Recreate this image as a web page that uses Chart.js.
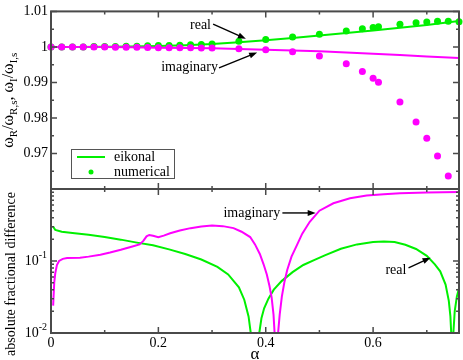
<!DOCTYPE html>
<html><head><meta charset="utf-8">
<script src="https://cdn.jsdelivr.net/npm/chart.js@4.4.1/dist/chart.umd.min.js"></script>
<style>
html,body{margin:0;padding:0;background:#fff;}
#wrap{position:relative;width:463px;height:360px;overflow:hidden;}
#wrap canvas{position:absolute;left:0;top:0;}
</style></head><body>
<div id="wrap"><canvas id="cTop" width="463" height="360"></canvas><canvas id="cBot" width="463" height="360"></canvas></div>
<script>
// ---------- data ----------
const alphaNum = [0,0.02,0.04,0.06,0.08,0.10,0.12,0.14,0.16,0.18,0.20,0.22,0.24,0.26,0.28,0.30,0.35,0.40,0.45,0.50,0.55,0.58,0.60,0.61,0.65,0.68,0.70,0.72,0.74,0.76];
const numReal = [1.0000,1.0000,1.0000,1.0000,1.0001,1.0001,1.0001,1.0002,1.0002,1.0003,1.0004,1.0004,1.0005,1.0006,1.0007,1.0008,1.0016,1.0021,1.0028,1.0036,1.0045,1.0051,1.0055,1.0057,1.0064,1.0068,1.0070,1.0072,1.0072,1.0071];
const numImag = [1.0000,1.0000,1.0000,1.0000,1.0000,0.99995,0.99993,0.9999,0.9999,0.99985,0.9998,0.9998,0.99978,0.99975,0.99973,0.9997,0.99945,0.99918,0.99863,0.99743,0.99525,0.99306,0.99115,0.99005,0.98451,0.97885,0.97432,0.96929,0.96366,null];

const alphaEik = [0,0.05,0.10,0.15,0.20,0.25,0.30,0.35,0.40,0.45,0.50,0.55,0.60,0.65,0.70,0.76];
const eikReal = [1.0,1.00001,1.00005,1.00013,1.00025,1.0005,1.0008,1.0013,1.0019,1.0025,1.0032,1.0039,1.0046,1.0054,1.0062,1.0073];
const eikImag = [1.0,0.99999,0.99995,0.9999,0.9998,0.9997,0.9996,0.99942,0.9992,0.9990,0.99875,0.99845,0.9981,0.9977,0.9973,0.9969];

const alphaDiffReal = [0.004,0.008,0.02,0.04,0.07,0.10,0.13,0.16,0.19,0.22,0.25,0.28,0.31,0.33,0.35,0.36,0.368,0.3725,0.377,0.380,0.383,0.3875,0.392,0.397,0.405,0.415,0.43,0.45,0.47,0.49,0.51,0.54,0.57,0.60,0.62,0.64,0.66,0.68,0.70,0.715,0.725,0.735,0.741,0.744,0.7455,0.7475,0.7495,0.752,0.756,0.76];
const diffReal = [0.30,0.27,0.255,0.245,0.232,0.215,0.198,0.18,0.165,0.145,0.125,0.105,0.083,0.065,0.043,0.029,0.017,0.0095,0.003,0.0003,0.003,0.0095,0.016,0.022,0.030,0.04,0.053,0.07,0.088,0.103,0.12,0.148,0.17,0.183,0.187,0.184,0.168,0.147,0.118,0.09,0.072,0.047,0.028,0.017,0.01,0.0003,0.01,0.02,0.032,0.042];

const alphaDiffImag = [0.004,0.006,0.008,0.011,0.015,0.022,0.03,0.054,0.07,0.092,0.11,0.13,0.15,0.165,0.172,0.178,0.183,0.19,0.20,0.21,0.222,0.24,0.26,0.28,0.30,0.32,0.34,0.355,0.371,0.38,0.389,0.396,0.402,0.407,0.411,0.4145,0.4165,0.4198,0.423,0.426,0.43,0.435,0.44,0.448,0.457,0.468,0.482,0.50,0.526,0.557,0.588,0.62,0.65,0.70,0.76];
const diffImag = [0.024,0.05,0.068,0.088,0.10,0.107,0.11,0.111,0.115,0.122,0.131,0.143,0.158,0.17,0.19,0.22,0.23,0.224,0.214,0.225,0.243,0.265,0.286,0.302,0.31,0.305,0.286,0.255,0.215,0.17,0.125,0.09,0.065,0.045,0.031,0.018,0.01,0.0003,0.01,0.018,0.032,0.052,0.075,0.115,0.16,0.24,0.35,0.5,0.634,0.743,0.81,0.845,0.87,0.895,0.905];

// tick values
const xMajor = [0,0.2,0.4,0.6];
const xMinor = [0.1,0.3,0.5,0.7];
const xTickLabels = ['0','0.2','0.4','0.6'];
const yTopMajor = [0.96,0.97,0.98,0.99,1.00,1.01];
const yTopMinor = [0.965,0.975,0.985,0.995,1.005];
const yTopLabels = ['','0.97','0.98','0.99','1','1.01'];
const yBotMajor = [0.01,0.1,1];
const yBotMinor = [0.02,0.03,0.04,0.05,0.06,0.07,0.08,0.09,0.2,0.3,0.4,0.5,0.6,0.7,0.8,0.9];
const yBotLabels = [['10','-2'],['10','-1']];

// ---------- style ----------
const GREEN = '#00f000';
const MAG = '#ff00ff';
const FRAME = '#4a4a4a';
const SERIF = "'Liberation Serif', 'Times New Roman', serif";
const XMIN = 0, XMAX = 0.76;

const pts = (xs, ys) => xs.map((x,i) => ({x, y: ys[i]}));

function drawFrame(chart, ymaj, ymin) {
  const {ctx, chartArea: a} = chart;
  const xs = chart.scales.x, ys = chart.scales.y;
  ctx.save();
  ctx.strokeStyle = FRAME;
  ctx.lineWidth = 1.5;
  ctx.beginPath();
  const xt = (v, L) => { const p = xs.getPixelForValue(v); ctx.moveTo(p, a.bottom); ctx.lineTo(p, a.bottom - L); ctx.moveTo(p, a.top); ctx.lineTo(p, a.top + L); };
  const yt = (v, L) => { const p = ys.getPixelForValue(v); ctx.moveTo(a.left, p); ctx.lineTo(a.left + L, p); ctx.moveTo(a.right, p); ctx.lineTo(a.right - L, p); };
  xMajor.forEach(v => xt(v, 6)); xMinor.forEach(v => xt(v, 3));
  ymaj.forEach(v => yt(v, 6)); ymin.forEach(v => yt(v, 3));
  ctx.stroke();
  ctx.lineWidth = 2;
  ctx.strokeRect(a.left, a.top, a.right - a.left, a.bottom - a.top);
  ctx.restore();
}

function arrow(ctx, x1, y1, x2, y2) {
  const ang = Math.atan2(y2 - y1, x2 - x1);
  const L = 8, W = 3;
  ctx.beginPath(); ctx.moveTo(x1, y1); ctx.lineTo(x2 - L * 0.8 * Math.cos(ang), y2 - L * 0.8 * Math.sin(ang)); ctx.stroke();
  ctx.beginPath();
  ctx.moveTo(x2, y2);
  ctx.lineTo(x2 - L * Math.cos(ang) + W * Math.sin(ang), y2 - L * Math.sin(ang) - W * Math.cos(ang));
  ctx.lineTo(x2 - L * Math.cos(ang) - W * Math.sin(ang), y2 - L * Math.sin(ang) + W * Math.cos(ang));
  ctx.closePath(); ctx.fill();
}

function annotate(chart, list) {
  const {ctx} = chart; const xs = chart.scales.x, ys = chart.scales.y;
  ctx.save();
  ctx.fillStyle = '#000'; ctx.strokeStyle = '#000'; ctx.lineWidth = 1.4;
  ctx.font = '14px ' + SERIF; ctx.textBaseline = 'middle';
  list.forEach(an => {
    ctx.textAlign = 'right';
    ctx.fillText(an.text, xs.getPixelForValue(an.tx), ys.getPixelForValue(an.ty));
    arrow(ctx, xs.getPixelForValue(an.x1), ys.getPixelForValue(an.y1), xs.getPixelForValue(an.x2), ys.getPixelForValue(an.y2));
  });
  ctx.restore();
}

function rotatedRuns(ctx, cx, cy, baseOff, runs) {
  ctx.save();
  ctx.translate(cx, cy); ctx.rotate(-Math.PI / 2);
  ctx.fillStyle = '#000'; ctx.textBaseline = 'alphabetic'; ctx.textAlign = 'left';
  let total = 0;
  runs.forEach(r => { ctx.font = r.size + 'px ' + SERIF; r.w = ctx.measureText(r.t).width; total += r.w; });
  let x = -total / 2;
  runs.forEach(r => { ctx.font = r.size + 'px ' + SERIF; ctx.fillText(r.t, x, baseOff + (r.dy || 0)); x += r.w; });
  ctx.restore();
}

const topPlugin = {
  id: 'topDeco',
  afterDatasetsDraw(chart) {
    drawFrame(chart, yTopMajor, yTopMinor);
    const {ctx, chartArea: a} = chart;
    // legend
    ctx.save();
    const lx = a.left + 20, ly = a.bottom - 40, lw = 103, lh = 29;
    ctx.fillStyle = '#fff'; ctx.fillRect(lx, ly, lw, lh);
    ctx.strokeStyle = '#555'; ctx.lineWidth = 1; ctx.strokeRect(lx + 0.5, ly + 0.5, lw, lh);
    ctx.strokeStyle = GREEN; ctx.lineWidth = 2;
    ctx.beginPath(); ctx.moveTo(lx + 6, ly + 8); ctx.lineTo(lx + 34, ly + 8); ctx.stroke();
    ctx.fillStyle = GREEN; ctx.beginPath(); ctx.arc(lx + 20, ly + 23, 2.5, 0, Math.PI * 2); ctx.fill();
    ctx.fillStyle = '#000'; ctx.font = '14px ' + SERIF; ctx.textBaseline = 'middle'; ctx.textAlign = 'left';
    ctx.fillText('eikonal', lx + 43, ly + 8);
    ctx.fillText('numerical', lx + 43, ly + 23);
    ctx.restore();
    annotate(chart, [
      {text: 'real', tx: 0.298, ty: 1.0061, x1: 0.302, y1: 1.0064, x2: 0.363, y2: 1.0023},
      {text: 'imaginary', tx: 0.311, ty: 0.9942, x1: 0.313, y1: 0.9941, x2: 0.384, y2: 0.99845}
    ]);
    // y title
    rotatedRuns(ctx, 0, (a.top + a.bottom) / 2, 13, [
      {t: 'ω', size: 16}, {t: 'R', size: 11, dy: 4}, {t: '/ω', size: 16}, {t: 'R,s', size: 11, dy: 4},
      {t: ', ω', size: 16}, {t: 'I', size: 11, dy: 4}, {t: '/ω', size: 16}, {t: 'I,s', size: 11, dy: 4}
    ]);
  }
};

const botPlugin = {
  id: 'botDeco',
  afterDatasetsDraw(chart) {
    drawFrame(chart, yBotMajor, yBotMinor);
    const {ctx, chartArea: a} = chart; const ys = chart.scales.y;
    annotate(chart, [
      {text: 'imaginary', tx: 0.427, ty: 0.465, x1: 0.431, y1: 0.465, x2: 0.493, y2: 0.465},
      {text: 'real', tx: 0.662, ty: 0.0732, x1: 0.666, y1: 0.0805, x2: 0.707, y2: 0.111}
    ]);
    // log tick labels with superscripts
    ctx.save(); ctx.fillStyle = '#000'; ctx.textBaseline = 'middle'; ctx.textAlign = 'left';
    yBotLabels.forEach((lab, i) => {
      const p = ys.getPixelForValue(yBotMajor[i]);
      ctx.font = '14px ' + SERIF; const w = ctx.measureText(lab[0]).width;
      ctx.font = '10px ' + SERIF; const w2 = ctx.measureText(lab[1]).width;
      const right = a.left - 4;
      ctx.fillText(lab[1], right - w2, p - 6);
      ctx.font = '14px ' + SERIF; ctx.fillText(lab[0], right - w2 - w, p);
    });
    ctx.restore();
    rotatedRuns(ctx, 0, 274, 15, [{t: 'absolute fractional difference', size: 14}]);
  }
};

const common = {
  responsive: false, animation: false, devicePixelRatio: 1,
  plugins: {legend: {display: false}, tooltip: {enabled: false}}
};

new Chart(document.getElementById('cTop'), {
  type: 'scatter',
  data: {datasets: [
    {data: pts(alphaEik, eikReal), showLine: true, borderColor: GREEN, borderWidth: 2, pointRadius: 0, order: 3},
    {data: pts(alphaEik, eikImag), showLine: true, borderColor: MAG, borderWidth: 2, pointRadius: 0, order: 2},
    {data: pts(alphaNum, numReal), showLine: false, pointRadius: 3.5, pointBorderWidth: 0, pointBackgroundColor: GREEN, clip: false, order: 1},
    {data: pts(alphaNum, numImag), showLine: false, pointRadius: 3.5, pointBorderWidth: 0, pointBackgroundColor: MAG, clip: false, order: 0}
  ]},
  options: Object.assign({}, common, {
    layout: {padding: {left: 0, right: 4, top: 6, bottom: 171}},
    scales: {
      x: {type: 'linear', min: XMIN, max: XMAX, display: false},
      y: {type: 'linear', min: 0.96, max: 1.01,
        afterFit: s => { s.width = 51; },
        afterBuildTicks: s => { s.ticks = yTopMajor.map(v => ({value: v})); },
        grid: {display: false, drawTicks: false}, border: {display: false},
        ticks: {padding: 3, color: '#000', font: {family: SERIF, size: 14},
          callback: (v, i) => yTopLabels[i]}}
    }
  }),
  plugins: [topPlugin]
});

new Chart(document.getElementById('cBot'), {
  type: 'scatter',
  data: {datasets: [
    {data: pts(alphaDiffReal, diffReal), showLine: true, borderColor: GREEN, borderWidth: 2, pointRadius: 0, order: 1},
    {data: pts(alphaDiffImag, diffImag), showLine: true, borderColor: MAG, borderWidth: 2, pointRadius: 0, order: 0}
  ]},
  options: Object.assign({}, common, {
    layout: {padding: {left: 0, right: 4, top: 189, bottom: 0}},
    scales: {
      x: {type: 'linear', min: XMIN, max: XMAX,
        afterFit: s => { s.height = 27; },
        afterBuildTicks: s => { s.ticks = xMajor.map(v => ({value: v})); },
        grid: {display: false, drawTicks: false}, border: {display: false},
        ticks: {padding: 2, color: '#000', maxRotation: 0, font: {family: SERIF, size: 14},
          callback: (v, i) => xTickLabels[i]},
        title: {display: true, text: 'α', color: '#000', font: {family: SERIF, size: 17, lineHeight: 1}, padding: {top: 0, bottom: -3}}},
      y: {type: 'logarithmic', min: 0.01, max: 1,
        afterFit: s => { s.width = 51; },
        grid: {display: false, drawTicks: false}, border: {display: false},
        ticks: {display: false}}
    }
  }),
  plugins: [botPlugin]
});
</script>
</body></html>
